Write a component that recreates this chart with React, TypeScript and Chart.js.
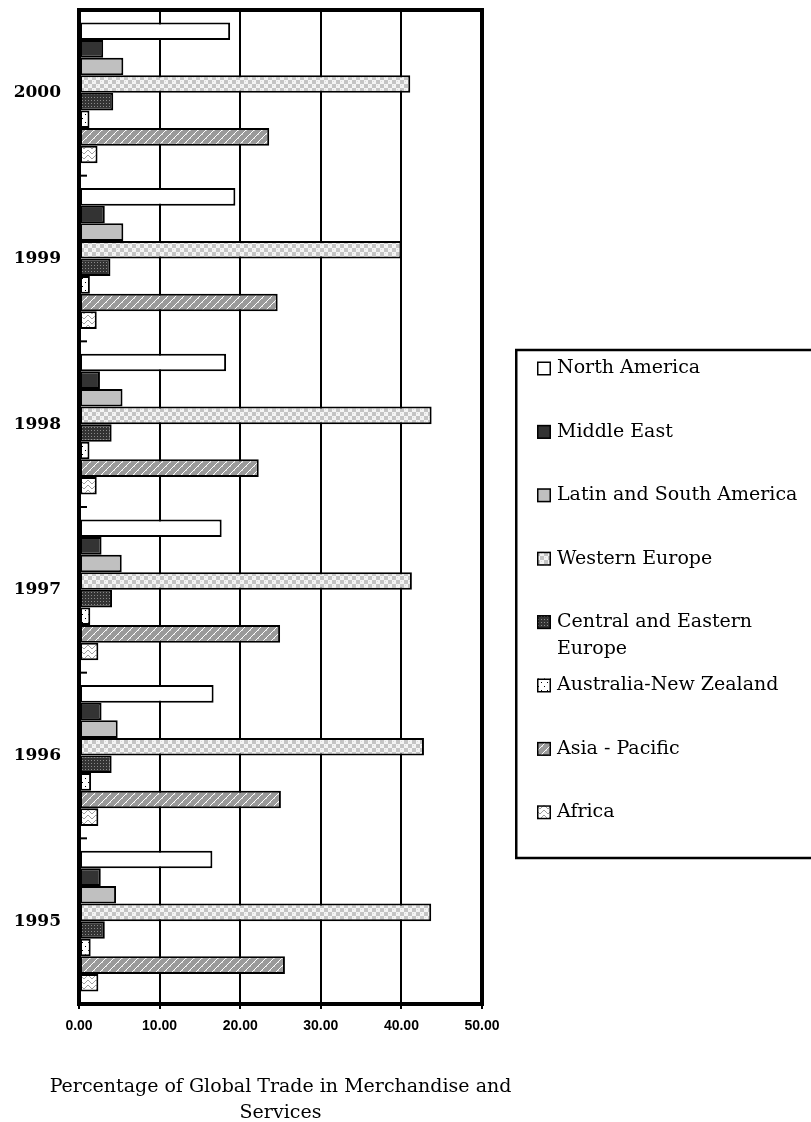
import React, { useEffect, useRef } from 'react';
import { Chart, registerables } from 'chart.js';

Chart.register(...registerables);

const years = ['2000', '1999', '1998', '1997', '1996', '1995'];
const regions = [
  'North America',
  'Middle East',
  'Latin and South America',
  'Western Europe',
  'Central and Eastern Europe',
  'Australia-New Zealand',
  'Asia - Pacific',
  'Africa',
];
const northAmerica = [18.75, 19.4, 18.25, 17.7, 16.7, 16.55];
const middleEast = [3.0, 3.2, 2.6, 2.8, 2.8, 2.7];
const latinSouthAmerica = [5.5, 5.5, 5.4, 5.3, 4.8, 4.6];
const westernEurope = [41.1, 40.0, 43.75, 41.3, 42.8, 43.7];
const centralEasternEurope = [4.25, 3.9, 4.05, 4.1, 4.05, 3.2];
const australiaNZ = [1.3, 1.35, 1.3, 1.4, 1.5, 1.45];
const asiaPacific = [23.6, 24.65, 22.3, 24.95, 25.05, 25.55];
const africa = [2.3, 2.2, 2.2, 2.4, 2.4, 2.4];
const xTicks = [0, 10, 20, 30, 40, 50];
const legendLines = [
  ['North America'],
  ['Middle East'],
  ['Latin and South America'],
  ['Western Europe'],
  ['Central and Eastern', 'Europe'],
  ['Australia-New Zealand'],
  ['Asia - Pacific'],
  ['Africa'],
];
const axisTitle = ['Percentage of Global Trade in Merchandise and', 'Services'];

const SERIF = '"DejaVu Serif", "Liberation Serif", serif';
const SANS = '"Liberation Sans", Arial, sans-serif';

function tile(w: number, h: number, draw: (g: CanvasRenderingContext2D) => void): CanvasPattern | string {
  const c = document.createElement('canvas');
  c.width = w;
  c.height = h;
  const g = c.getContext('2d')!;
  draw(g);
  return g.createPattern(c, 'repeat') || '#888';
}

function makeFills(): (CanvasPattern | string)[] {
  const we = tile(8, 8, (g) => {
    g.fillStyle = '#f4f4f4';
    g.fillRect(0, 0, 8, 8);
    g.fillStyle = '#c4c4c4';
    g.fillRect(0, 0, 4, 4);
    g.fillRect(4, 4, 4, 4);
    g.fillStyle = '#dcdcdc';
    g.fillRect(5, 1, 1, 1);
    g.fillRect(1, 5, 1, 1);
  });
  const cee = tile(3, 3, (g) => {
    g.fillStyle = '#333333';
    g.fillRect(0, 0, 3, 3);
    g.fillStyle = '#8a8a8a';
    g.fillRect(1, 1, 1, 1);
  });
  const anz = tile(6, 8, (g) => {
    g.fillStyle = '#ffffff';
    g.fillRect(0, 0, 6, 8);
    g.fillStyle = '#000000';
    g.fillRect(1, 2, 1, 1);
    g.fillRect(4, 6, 1, 1);
  });
  const ap = tile(8, 8, (g) => {
    g.fillStyle = '#9a9a9a';
    g.fillRect(0, 0, 8, 8);
    g.fillStyle = '#ffffff';
    for (let i = 0; i < 8; i++) g.fillRect(i, 7 - i, 1, 1);
    g.fillStyle = '#d0d0d0';
    g.fillRect(2, 6, 1, 1);
    g.fillRect(6, 2, 1, 1);
  });
  const af = tile(8, 5, (g) => {
    g.fillStyle = '#ffffff';
    g.fillRect(0, 0, 8, 5);
    g.fillStyle = '#a0a0a0';
    const ys = [0, 1, 2, 3, 3, 2, 1, 0];
    for (let x = 0; x < 8; x++) g.fillRect(x, ys[x], 1, 1);
  });
  return ['#ffffff', '#333333', '#c0c0c0', we, cee, anz, ap, af];
}

export default function App() {
  const ref = useRef<HTMLCanvasElement | null>(null);

  useEffect(() => {
    if (!ref.current) return;
    const fills = makeFills();
    const series = [
      northAmerica,
      middleEast,
      latinSouthAmerica,
      westernEurope,
      centralEasternEurope,
      australiaNZ,
      asiaPacific,
      africa,
    ];

    const decorations = {
      id: 'decorations',
      afterDatasetsDraw(chart: any) {
        const { ctx, chartArea } = chart;
        const ys = chart.scales.y;
        ctx.save();
        // inside category tick marks
        ctx.strokeStyle = '#000';
        ctx.lineWidth = 2;
        for (let i = 0; i < years.length - 1; i++) {
          const y = (ys.getPixelForValue(i) + ys.getPixelForValue(i + 1)) / 2;
          ctx.beginPath();
          ctx.moveTo(chartArea.left, y);
          ctx.lineTo(chartArea.left + 8, y);
          ctx.stroke();
        }
        // plot border
        ctx.lineWidth = 4;
        ctx.strokeRect(
          chartArea.left,
          chartArea.top,
          chartArea.right - chartArea.left,
          chartArea.bottom - chartArea.top
        );
        ctx.restore();
      },
      afterDraw(chart: any) {
        const { ctx, chartArea } = chart;
        ctx.save();
        // axis title
        ctx.fillStyle = '#000';
        ctx.font = `19px ${SERIF}`;
        ctx.textAlign = 'center';
        ctx.textBaseline = 'alphabetic';
        const cx = (chartArea.left + chartArea.right) / 2;
        ctx.fillText(axisTitle[0], cx, 1092);
        ctx.fillText(axisTitle[1], cx, 1118);
        // legend
        ctx.strokeStyle = '#000';
        ctx.lineWidth = 2.5;
        ctx.strokeRect(516.25, 350, 330, 508);
        ctx.textAlign = 'left';
        ctx.textBaseline = 'middle';
        for (let i = 0; i < legendLines.length; i++) {
          const cy = 368.5 + 63.4 * i;
          ctx.fillStyle = fills[i] as any;
          ctx.fillRect(537, cy - 7, 14, 14);
          ctx.lineWidth = 1.5;
          ctx.strokeRect(537.75, cy - 6.25, 12.5, 12.5);
          ctx.fillStyle = '#000';
          legendLines[i].forEach((line, j) => {
            ctx.fillText(line, 557, cy + j * 26.5);
          });
        }
        ctx.restore();
      },
    };

    const chart = new Chart(ref.current, {
      type: 'bar',
      data: {
        labels: years,
        datasets: regions.map((name, i) => ({
          label: name,
          data: series[i],
          backgroundColor: fills[i] as any,
          borderColor: '#000000',
          borderWidth: 2,
          borderSkipped: false,
        })),
      },
      options: {
        indexAxis: 'y',
        responsive: false,
        animation: false,
        events: [],
        layout: { padding: { top: 10, right: 329, left: 0, bottom: 0 } },
        datasets: { bar: { categoryPercentage: 0.85, barPercentage: 1 } },
        plugins: { legend: { display: false }, tooltip: { enabled: false } },
        scales: {
          x: {
            type: 'linear',
            min: 0,
            max: 50,
            afterBuildTicks: (s: any) => {
              s.ticks = xTicks.map((v) => ({ value: v }));
            },
            ticks: {
              callback: (v: any) => Number(v).toFixed(2),
              font: { family: SANS, size: 14, weight: 'bold' },
              color: '#000',
              padding: 9,
              maxRotation: 0,
            },
            grid: { color: '#000', lineWidth: 2, tickLength: 5, drawTicks: true },
            border: { display: false },
            afterFit: (s: any) => {
              s.height = 118;
              s.paddingLeft = 0;
              s.paddingRight = 0;
            },
          },
          y: {
            type: 'category',
            ticks: {
              font: { family: SERIF, size: 17, weight: 'bold' },
              color: '#000',
              padding: 18,
            },
            grid: { display: false, drawTicks: false },
            border: { display: false },
            afterFit: (s: any) => {
              s.width = 79;
              s.paddingTop = 0;
              s.paddingBottom = 0;
            },
          },
        },
      } as any,
      plugins: [decorations],
    });
    return () => chart.destroy();
  }, []);

  return (
    <div style={{ position: 'absolute', left: 0, top: 0, width: 811, height: 1122 }}>
      <canvas ref={ref} width={811} height={1122} style={{ display: 'block' }} />
    </div>
  );
}
